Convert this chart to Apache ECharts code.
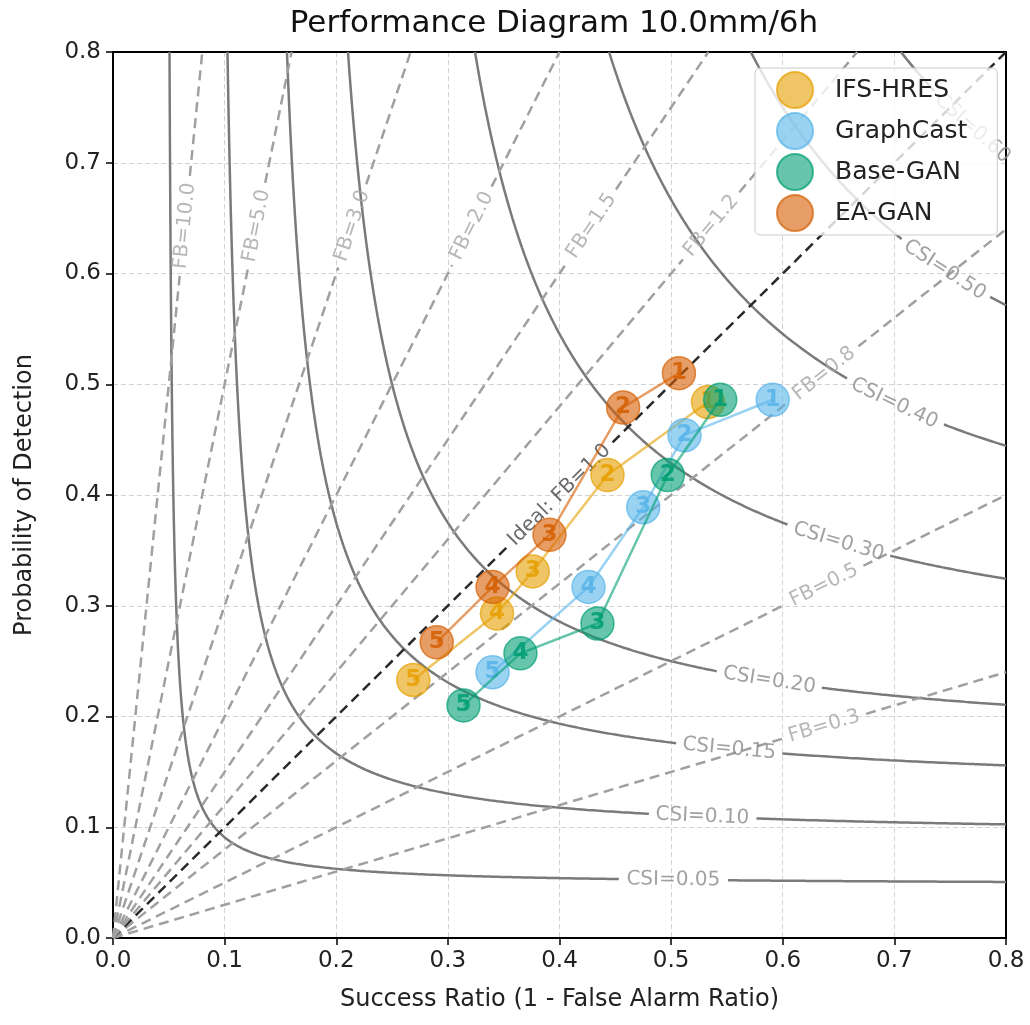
<!DOCTYPE html>
<html>
<head>
<meta charset="utf-8">
<script src="https://cdn.jsdelivr.net/npm/echarts@6/dist/echarts.min.js"></script>
<style>
  html, body { margin: 0; padding: 0; background: #fff; }
  #main { width: 1030px; height: 1025px; }
</style>
</head>
<body>
<div id="main"></div>
<script>
// --- data ---
const models = ['IFS-HRES', 'GraphCast', 'Base-GAN', 'EA-GAN'];
const leadLabels = ['1', '2', '3', '4', '5'];

const ifsSR  = [0.533, 0.443, 0.376, 0.344, 0.269];
const ifsPOD = [0.484, 0.418, 0.331, 0.293, 0.233];
const gcSR   = [0.591, 0.512, 0.475, 0.426, 0.340];
const gcPOD  = [0.486, 0.454, 0.389, 0.317, 0.240];
const baseSR  = [0.544, 0.497, 0.434, 0.365, 0.314];
const basePOD = [0.486, 0.418, 0.284, 0.257, 0.210];
const eaSR   = [0.507, 0.457, 0.391, 0.340, 0.290];
const eaPOD  = [0.510, 0.479, 0.364, 0.317, 0.267];

const modelColors = [[230, 159, 0], [86, 180, 233], [0, 158, 115], [213, 94, 0]];

// background isolines
const csiLevels  = [0.05, 0.10, 0.15, 0.20, 0.30, 0.40, 0.50, 0.60];
const csiLabelSR = [0.502, 0.528, 0.552, 0.588, 0.650, 0.700, 0.745, 0.770];
const fbLevels   = [0.3, 0.5, 0.8, 1.0, 1.2, 1.5, 2.0, 3.0, 5.0, 10.0];

const AX_MAX = 0.8;
// pixels per unit on each axis (plot is 893 x 886 px)
const PX = 893 / AX_MAX, PY = 886 / AX_MAX;

const ctx = document.createElement('canvas').getContext('2d');
function textWidth(s, size) {
  ctx.font = size + 'px "DejaVu Sans"';
  return ctx.measureText(s).width;
}
function rgba(c, a) { return 'rgba(' + c[0] + ',' + c[1] + ',' + c[2] + ',' + a + ')'; }

const bgSeries = [];
const labelItems = [];

function lineSeries(pts, style) {
  return {
    type: 'line', data: pts, showSymbol: false, symbol: 'none', silent: true,
    animation: false, z: 1, lineStyle: style, emphasis: { disabled: true }
  };
}

// CSI curves: POD = 1 / (1/CSI + 1 - 1/SR)
csiLevels.forEach((c, k) => {
  const sr0 = 1 / (1 / c - 1 / AX_MAX + 1);
  if (sr0 >= AX_MAX) return;
  const pts = [];
  const N = 700;
  for (let i = 0; i <= N; i++) {
    const sr = sr0 + (AX_MAX - sr0) * Math.pow(i / N, 2);
    const pod = Math.min(AX_MAX, 1 / (1 / c + 1 - 1 / sr));
    pts.push([sr, pod]);
  }
  const lx = csiLabelSR[k];
  const ly = 1 / (1 / c + 1 - 1 / lx);
  const txt = 'CSI=' + c.toFixed(2);
  const half = textWidth(txt, 20) / 2 + 6;
  const a = [], b = [];
  let passed = false;
  pts.forEach(p => {
    const d = Math.hypot((p[0] - lx) * PX, (p[1] - ly) * PY);
    if (d < half) { passed = true; return; }
    (passed ? b : a).push(p);
  });
  const st = { color: '#7a7a7a', width: 2.5, type: 'solid' };
  bgSeries.push(lineSeries(a, st), lineSeries(b, st));
  const rot = -Math.atan(Math.pow(ly / lx, 2) * PY / PX) * 180 / Math.PI;
  labelItems.push({ value: [lx, ly], label: { formatter: txt, rotate: rot, fontSize: 20, color: '#8a8a8a' } });
});

// frequency bias lines: POD = FB * SR
fbLevels.forEach(fb => {
  const end = fb >= 1 ? [AX_MAX / fb, AX_MAX] : [AX_MAX, AX_MAX * fb];
  let c;
  if (fb > 1) c = [0.643 / fb, 0.643];
  else if (fb < 1) c = [0.637, 0.637 * fb];
  else c = [0.40, 0.40];
  const ideal = fb === 1;
  const txt = ideal ? 'Ideal: FB=1.0' : 'FB=' + fb.toFixed(1);
  const fs = 20;
  const half = textWidth(txt, fs) / 2 + 7;
  const ex = end[0] * PX, ey = end[1] * PY, len = Math.hypot(ex, ey);
  const ux = ex / len, uy = ey / len;
  const g1 = [c[0] - half * ux / PX, c[1] - half * uy / PY];
  const g2 = [c[0] + half * ux / PX, c[1] + half * uy / PY];
  const st = { color: ideal ? '#2a2a2a' : '#a0a0a0', width: 2.5, type: [10, 6] };
  bgSeries.push(lineSeries([[0, 0], g1], st), lineSeries([g2, end], st));
  const rot = Math.atan(fb * PY / PX) * 180 / Math.PI;
  labelItems.push({ value: c, label: { formatter: txt, rotate: rot, fontSize: fs, color: ideal ? '#444' : '#a5a5a5' } });
});

const labelSeries = {
  type: 'scatter', data: labelItems, symbolSize: 0, silent: true, animation: false, z: 2,
  label: { show: true, position: 'inside', align: 'center', verticalAlign: 'middle', fontFamily: 'DejaVu Sans' },
  emphasis: { disabled: true }
};

const modelSR = [ifsSR, gcSR, baseSR, eaSR];
const modelPOD = [ifsPOD, gcPOD, basePOD, eaPOD];
const modelSeries = models.map((name, k) => ({
  name: name,
  type: 'line',
  data: modelSR[k].map((sr, i) => [sr, modelPOD[k][i], leadLabels[i]]),
  symbol: 'circle',
  symbolSize: 33,
  showSymbol: true,
  animation: false,
  z: 5 + k,
  itemStyle: { color: rgba(modelColors[k], 0.6), borderColor: rgba(modelColors[k], 0.7), borderWidth: 1.5 },
  lineStyle: { color: rgba(modelColors[k], 0.6), width: 2.5 },
  label: {
    show: true, position: 'inside', formatter: p => p.value[2],
    fontSize: 23, fontWeight: 'bold', fontFamily: 'DejaVu Sans', color: rgba(modelColors[k], 0.85)
  },
  emphasis: { disabled: true }
}));

const chart = echarts.init(document.getElementById('main'), null, { renderer: 'canvas' });

const axisCommon = {
  type: 'value', min: 0, max: AX_MAX, interval: 0.1,
  axisLine: { show: true, lineStyle: { color: '#000', width: 2 } },
  axisTick: { show: true, length: 7, lineStyle: { color: '#000', width: 1.5 } },
  axisLabel: { fontSize: 23, color: '#222', fontFamily: 'DejaVu Sans', formatter: v => v.toFixed(1), showMinLabel: true, showMaxLabel: true, margin: 12 },
  splitLine: { show: true, lineStyle: { color: '#d2d2d2', width: 1, type: [5, 3] } },
  nameTextStyle: { fontSize: 24, color: '#222', fontFamily: 'DejaVu Sans' },
  nameLocation: 'middle'
};
// frame edges on top and right
const frameAxis = {
  type: 'value', min: 0, max: AX_MAX, interval: 0.1,
  axisLine: { show: true, onZero: false, lineStyle: { color: '#000', width: 2 } },
  axisTick: { show: false }, axisLabel: { show: false }, splitLine: { show: false }
};

chart.setOption({
  backgroundColor: '#fff',
  animation: false,
  textStyle: { fontFamily: 'DejaVu Sans' },
  title: {
    text: 'Performance Diagram 10.0mm/6h',
    left: 549, textAlign: 'center', top: 3,
    textStyle: { fontSize: 31, fontWeight: 'normal', color: '#111', fontFamily: 'DejaVu Sans' }
  },
  grid: {
    left: 113, right: 24, top: 52, bottom: 87,
    containLabel: false, outerBoundsMode: 'none'
  },
  legend: {
    data: models,
    orient: 'vertical',
    left: 755, top: 68,
    icon: 'circle',
    itemWidth: 70, itemHeight: 36, itemGap: 3,
    padding: [3, 30, 3, 21],
    backgroundColor: 'rgba(255,255,255,0.8)',
    borderColor: '#cccccc', borderWidth: 1, borderRadius: 5,
    textStyle: { fontSize: 25, color: '#222', fontFamily: 'DejaVu Sans' }
  },
  xAxis: [
    Object.assign({}, axisCommon, { name: 'Success Ratio (1 - False Alarm Ratio)', nameGap: 50 }),
    Object.assign({}, frameAxis, { position: 'top' })
  ],
  yAxis: [
    Object.assign({}, axisCommon, { name: 'Probability of Detection', nameGap: 76 }),
    Object.assign({}, frameAxis, { position: 'right' })
  ],
  series: bgSeries.concat([labelSeries], modelSeries)
});
</script>
</body>
</html>
